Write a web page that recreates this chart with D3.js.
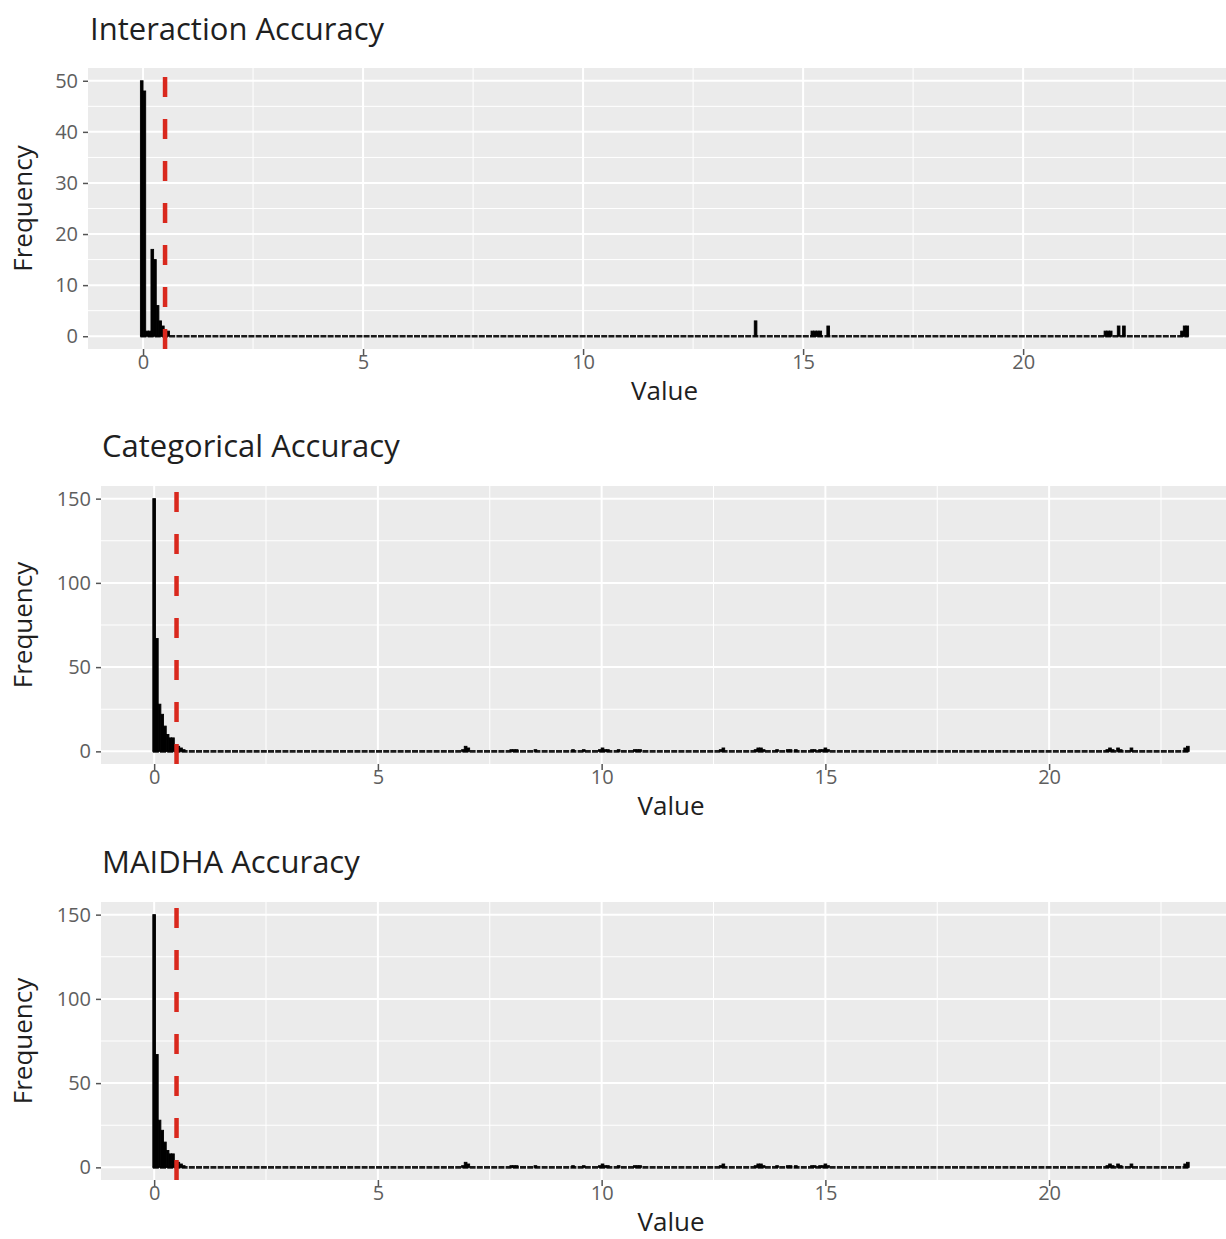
<!DOCTYPE html>
<html>
<head>
<meta charset="utf-8">
<script src="https://cdn.jsdelivr.net/npm/d3@7"></script>
<style>
  html, body { margin: 0; padding: 0; background: #fff; }
  svg { display: block; font-family: "Open Sans", sans-serif; }
</style>
</head>
<body>
<svg id="chart" width="1226" height="1239"></svg>
<script>
// ---- data -------------------------------------------------------------
const panelTitles = ["Interaction Accuracy", "Categorical Accuracy", "MAIDHA Accuracy"];
const xTitle = "Value";
const yTitle = "Frequency";

// histogram bin width (all panels)
const binWidth = 0.06;

// Interaction accuracy: bin centres and counts (only non-empty bins)
const interactionCenters = [-0.03, 0.03, 0.09, 0.15, 0.21, 0.27, 0.33, 0.39, 0.45, 0.51, 0.57,
  13.92, 15.21, 15.27, 15.33, 15.39, 15.57, 21.87, 21.93, 21.99, 22.17, 22.29, 23.61, 23.67, 23.73];
const interactionCounts = [50, 48, 1, 1, 17, 15, 6, 3, 2, 1, 1,
  3, 1, 1, 1, 1, 2, 1, 1, 1, 2, 2, 1, 2, 2];

// Categorical accuracy
const categoricalCenters = [0.00, 0.06, 0.12, 0.18, 0.24, 0.30, 0.36, 0.42, 0.48, 0.54, 0.60, 0.66,
  6.90, 6.96, 7.02, 7.98, 8.04, 8.10, 8.52, 9.36, 9.60, 9.96, 10.02, 10.08, 10.14, 10.38,
  10.74, 10.80, 10.86, 12.66, 12.72, 13.44, 13.50, 13.56, 13.62, 13.92, 14.16, 14.22, 14.34,
  14.70, 14.76, 14.88, 14.94, 15.00, 15.06, 21.30, 21.36, 21.42, 21.54, 21.60, 21.84, 23.04, 23.10];
const categoricalCounts = [150, 67, 28, 22, 15, 10, 8, 8, 4, 3, 2, 1,
  1, 3, 2, 1, 1, 1, 1, 1, 1, 1, 2, 1, 1, 1,
  1, 1, 1, 1, 2, 1, 2, 2, 1, 1, 1, 1, 1,
  1, 1, 1, 1, 2, 1, 1, 2, 1, 2, 1, 2, 2, 3];

// MAIDHA accuracy
const maidhaCenters = [0.00, 0.06, 0.12, 0.18, 0.24, 0.30, 0.36, 0.42, 0.48, 0.54, 0.60, 0.66,
  6.90, 6.96, 7.02, 7.98, 8.04, 8.10, 8.52, 9.36, 9.60, 9.96, 10.02, 10.08, 10.14, 10.38,
  10.74, 10.80, 10.86, 12.66, 12.72, 13.44, 13.50, 13.56, 13.62, 13.92, 14.16, 14.22, 14.34,
  14.70, 14.76, 14.88, 14.94, 15.00, 15.06, 21.30, 21.36, 21.42, 21.54, 21.60, 21.84, 23.04, 23.10];
const maidhaCounts = [150, 67, 28, 22, 15, 10, 8, 8, 4, 3, 2, 1,
  1, 3, 2, 1, 1, 1, 1, 1, 1, 1, 2, 1, 1, 1,
  1, 1, 1, 1, 2, 1, 2, 2, 1, 1, 1, 1, 1,
  1, 1, 1, 1, 2, 1, 1, 2, 1, 2, 1, 2, 2, 3];

// dashed reference line position
const thresholdValue = 0.5;

// axis ticks
const xTickValues = [0, 5, 10, 15, 20];
const xTickLabels = ["0", "5", "10", "15", "20"];
const yTicksInteraction = [0, 10, 20, 30, 40, 50];
const yTicksAccuracy = [0, 50, 100, 150];

// ---- layout -----------------------------------------------------------
const panels = [
  { title: panelTitles[0], centers: interactionCenters, counts: interactionCounts, yTicks: yTicksInteraction,
    left: 88, right: 1241, top: 68, bottom: 349, titleX: 90, titleY: 40 },
  { title: panelTitles[1], centers: categoricalCenters, counts: categoricalCounts, yTicks: yTicksAccuracy,
    left: 101, right: 1241, top: 486, bottom: 764, titleX: 102, titleY: 457 },
  { title: panelTitles[2], centers: maidhaCenters, counts: maidhaCounts, yTicks: yTicksAccuracy,
    left: 101, right: 1241, top: 902, bottom: 1180, titleX: 102, titleY: 873 }
];

const svg = d3.select("#chart");
const BG = "#ebebeb";
const TEXT = "#1f1f1f";
const TICKTEXT = "#5e5e5e";

panels.forEach((p, i) => {
  const bins = p.centers.map((c, k) => ({ x0: c - binWidth / 2, x1: c + binWidth / 2, n: p.counts[k] }));
  const lo = d3.min(bins, d => d.x0);
  const hi = d3.max(bins, d => d.x1);
  const padX = (hi - lo) * 0.05;
  const maxN = d3.max(bins, d => d.n);

  const x = d3.scaleLinear().domain([lo - padX, hi + padX]).range([p.left, p.right]);
  const y = d3.scaleLinear().domain([-0.05 * maxN, 1.05 * maxN]).range([p.bottom, p.top]);

  const g = svg.append("g").attr("class", "panel-" + i);

  // panel background
  g.append("rect")
    .attr("x", p.left).attr("y", p.top)
    .attr("width", p.right - p.left).attr("height", p.bottom - p.top)
    .attr("fill", BG);

  // minor grid
  const yStep = p.yTicks[1] - p.yTicks[0];
  const yMinor = p.yTicks.slice(0, -1).map(v => v + yStep / 2);
  const xMinor = xTickValues.map(v => v + 2.5).filter(v => v < hi + padX);
  g.selectAll(".gx-minor").data(xMinor).join("line")
    .attr("x1", d => x(d)).attr("x2", d => x(d))
    .attr("y1", p.top).attr("y2", p.bottom)
    .attr("stroke", "#fff").attr("stroke-width", 1);
  g.selectAll(".gy-minor").data(yMinor).join("line")
    .attr("x1", p.left).attr("x2", p.right)
    .attr("y1", d => y(d)).attr("y2", d => y(d))
    .attr("stroke", "#fff").attr("stroke-width", 1);

  // major grid
  g.selectAll(".gx-major").data(xTickValues).join("line")
    .attr("x1", d => x(d)).attr("x2", d => x(d))
    .attr("y1", p.top).attr("y2", p.bottom)
    .attr("stroke", "#fff").attr("stroke-width", 2);
  g.selectAll(".gy-major").data(p.yTicks).join("line")
    .attr("x1", p.left).attr("x2", p.right)
    .attr("y1", d => y(d)).attr("y2", d => y(d))
    .attr("stroke", "#fff").attr("stroke-width", 2);

  // outline of the empty bins along the baseline
  g.append("line")
    .attr("x1", x(lo)).attr("x2", x(hi))
    .attr("y1", y(0)).attr("y2", y(0))
    .attr("stroke", "#1a1a1a").attr("stroke-width", 2.6)
    .attr("stroke-dasharray", "6,1.2");

  // histogram bars
  g.selectAll(".bar").data(bins).join("rect")
    .attr("x", d => x(d.x0))
    .attr("width", d => x(d.x1) - x(d.x0))
    .attr("y", d => y(d.n))
    .attr("height", d => y(0) - y(d.n))
    .attr("fill", "#000").attr("stroke", "#000").attr("stroke-width", 0.9);

  // dashed threshold line (drawn bottom to top)
  g.append("line")
    .attr("x1", x(thresholdValue)).attr("x2", x(thresholdValue))
    .attr("y1", p.bottom).attr("y2", p.top)
    .attr("stroke", "#d9281d").attr("stroke-width", 4.5)
    .attr("stroke-dasharray", "20,22");

  // axes
  const xAxis = d3.axisBottom(x).tickValues(xTickValues)
    .tickFormat((d, k) => xTickLabels[k]).tickSize(6).tickPadding(0);
  const xa = g.append("g").attr("transform", `translate(0,${p.bottom})`).call(xAxis);
  const yAxis = d3.axisLeft(y).tickValues(p.yTicks).tickSize(5).tickPadding(5);
  const ya = g.append("g").attr("transform", `translate(${p.left},0)`).call(yAxis);
  [xa, ya].forEach(a => {
    a.select(".domain").remove();
    a.selectAll(".tick line").attr("stroke", "#555").attr("stroke-width", 1.5);
    a.selectAll(".tick text").attr("fill", TICKTEXT)
      .style("font-family", "'Open Sans', sans-serif").style("font-size", "20px");
  });

  // titles
  g.append("text").attr("x", p.titleX).attr("y", p.titleY)
    .attr("fill", TEXT).style("font-size", "31px").text(p.title);
  g.append("text")
    .attr("x", (p.left + p.right) / 2).attr("y", p.bottom + 51)
    .attr("text-anchor", "middle").attr("fill", TEXT).style("font-size", "26px")
    .text(xTitle);
  g.append("text")
    .attr("transform", `translate(32,${(p.top + p.bottom) / 2}) rotate(-90)`)
    .attr("text-anchor", "middle").attr("fill", TEXT).style("font-size", "26px")
    .text(yTitle);
});
</script>
</body>
</html>
